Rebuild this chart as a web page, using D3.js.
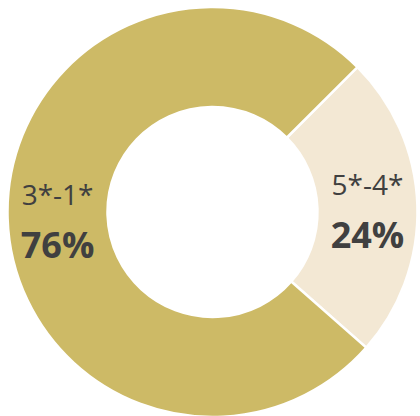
<!DOCTYPE html>
<html>
<head>
<meta charset="utf-8">
<script src="https://cdn.jsdelivr.net/npm/d3@7"></script>
<style>
  body { margin: 0; background: #fff; }
  .slice-label { font-family: 'Open Sans', sans-serif; fill: #404040; }
</style>
</head>
<body>
<svg id="donut-svg"></svg>
<script>
// Chart data
const categories = ['5*-4*', '3*-1*'];
const shares = [24, 76];
const colors = ['#F3E8D4', '#CDBA66'];

const width = 420;
const height = 416;

/**
 * Draws the donut chart with its data labels
 */
function drawDonut() {
  const svg = d3.select('#donut-svg')
    .attr('width', width)
    .attr('height', height);

  const g = svg.append('g')
    .attr('transform', 'translate(212.5, 212)');

  const data = categories.map((c, i) => ({ name: c, value: shares[i], color: colors[i] }));

  // Start the first slice at roughly 45 degrees, clockwise
  const start = 45 * Math.PI / 180;
  const pie = d3.pie()
    .value((d) => d.value)
    .sort(null)
    .startAngle(start)
    .endAngle(start + 2 * Math.PI);

  const arc = d3.arc().innerRadius(105).outerRadius(205);
  const labelArc = d3.arc().innerRadius(155).outerRadius(155);

  const arcs = pie(data);

  g.selectAll('path')
    .data(arcs)
    .enter()
    .append('path')
    .attr('d', arc)
    .attr('fill', (d) => d.data.color)
    .attr('stroke', '#fff')
    .attr('stroke-width', 2.5);

  // Labels: category name above, bold percentage below
  const labels = g.selectAll('g.label')
    .data(arcs)
    .enter()
    .append('g')
    .attr('class', 'label')
    .attr('transform', (d) => 'translate(' + labelArc.centroid(d) + ')');

  labels.append('text')
    .attr('class', 'slice-label')
    .attr('text-anchor', 'middle')
    .attr('y', -12)
    .style('font-size', '28px')
    .text((d) => d.data.name);

  labels.append('text')
    .attr('class', 'slice-label')
    .attr('text-anchor', 'middle')
    .attr('y', 41)
    .style('font-size', '36px')
    .style('font-weight', 'bold')
    .text((d) => d.data.value + '%');
}

drawDonut();
</script>
</body>
</html>
